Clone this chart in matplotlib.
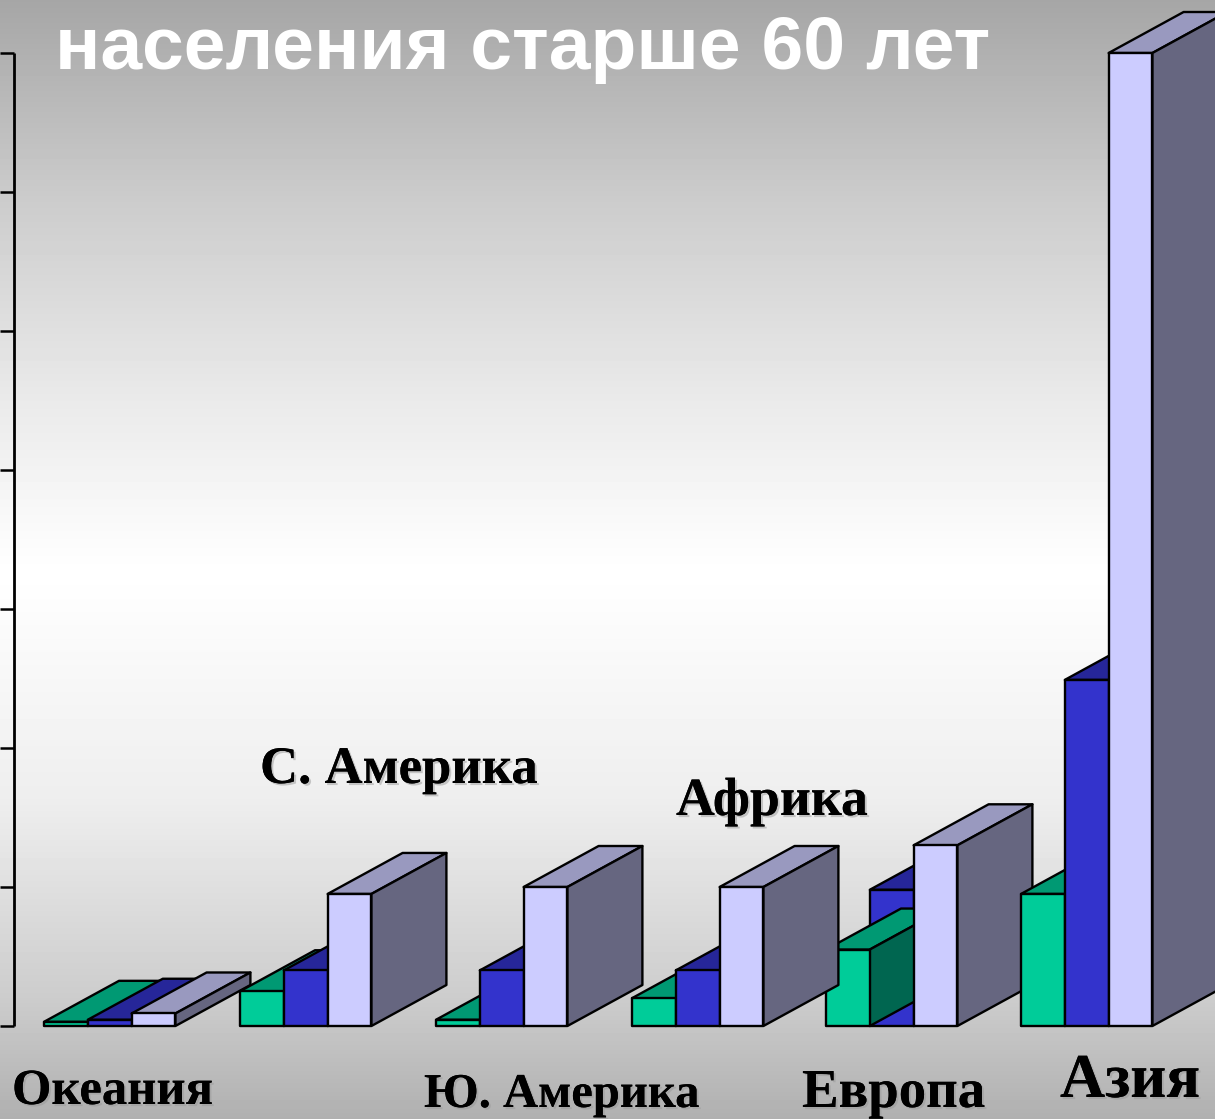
import numpy as np
import matplotlib
matplotlib.use('Agg')
import matplotlib.pyplot as plt
from matplotlib.patches import Polygon
import matplotlib.patheffects as pe

# heights of the bars (one axis step = 1)
categories = ['Океания', 'С. Америка', 'Ю. Америка', 'Африка', 'Европа', 'Азия']
series_green = [0.03, 0.25, 0.045, 0.20, 0.55, 0.95]
series_blue = [0.045, 0.40, 0.40, 0.40, 0.98, 2.49]
series_light = [0.09, 0.95, 1.0, 1.0, 1.3, 7.0]
y_ticks = [0, 1, 2, 3, 4, 5, 6, 7]
title = 'населения старше 60 лет'

W, H = 1215, 1119
STEP = 195.4
UNIT = 139.0
X0, Y0 = 44, 1026
BAR = 43.8 / STEP
DX = 75 / STEP
DY = 41 / UNIT
GROUP_PX = [44, 240, 436, 632, 826, 1021]

colors_green = ('#00CC99', '#009973', '#006650')
colors_blue = ('#3333CC', '#262699', '#1A1A66')
colors_light = ('#CCCCFF', '#9999BF', '#666680')


def draw_bar(ax, x, h, colors, z):
    # front, top and side faces of one pseudo 3d bar
    front = [(x, 0), (x + BAR, 0), (x + BAR, h), (x, h)]
    top = [(x, h), (x + BAR, h), (x + BAR + DX, h + DY), (x + DX, h + DY)]
    side = [(x + BAR, 0), (x + BAR + DX, DY), (x + BAR + DX, h + DY), (x + BAR, h)]
    for pts, col in zip([top, side, front], [colors[1], colors[2], colors[0]]):
        ax.add_patch(Polygon(pts, closed=True, facecolor=col, edgecolor='black',
                             linewidth=1.7, zorder=z, joinstyle='round'))


fig = plt.figure(figsize=(W / 100, H / 100), dpi=100)
ax = fig.add_axes([0, 0, 1, 1])
ax.set_xlim(-X0 / STEP, (W - X0) / STEP)
ax.set_ylim(-(H - Y0) / UNIT, Y0 / UNIT)
ax.axis('off')

# background gradient, grey - white - grey
stops = np.array([0, 200, 400, 572, 800, 1000, 1119]) / H
greys = np.array([166, 204, 234, 255, 238, 204, 176]) / 255
grad = np.interp(np.linspace(0, 1, H), stops, greys).reshape(-1, 1)
ax.imshow(grad, cmap='gray', vmin=0, vmax=1, aspect='auto', zorder=0,
          extent=[*ax.get_xlim(), *ax.get_ylim()], origin='upper')
ax.set_xlim(-X0 / STEP, (W - X0) / STEP)
ax.set_ylim(-(H - Y0) / UNIT, Y0 / UNIT)

# axis line at the left edge, the rest of the wall is cut off
wall_x = (14 - X0) / STEP
ax.vlines(wall_x, y_ticks[0], y_ticks[-1], color='black', lw=2.0, zorder=2)
ax.hlines(y_ticks, -X0 / STEP, wall_x, color='black', lw=1.8, zorder=2)

# Европа goes first and has the green bar in front of the blue one
order = [4, 0, 1, 2, 3, 5]
for n, i in enumerate(order):
    z = 3 + n
    start = (GROUP_PX[i] - X0) / STEP
    if categories[i] == 'Европа':
        bars = [(series_blue, colors_blue), (series_green, colors_green), (series_light, colors_light)]
        offs = [1, 0, 2]
    else:
        bars = [(series_green, colors_green), (series_blue, colors_blue), (series_light, colors_light)]
        offs = [0, 1, 2]
    for (vals, cols), k in zip(bars, offs):
        draw_bar(ax, start + k * BAR, vals[i], cols, z)
        z += 0.1

# labels: left px, baseline px, font size
label_pos = [(12, 1104, 36.5), (260, 783, 38), (424, 1107, 35),
             (676, 815, 38.7), (802, 1107, 39.5), (1060, 1097, 45)]
shadow = [pe.withSimplePatchShadow(offset=(1.5, -1.5), shadow_rgbFace='#999999', alpha=0.5), pe.Normal()]
for name, (px, py, size) in zip(categories, label_pos):
    fig.text(px / W, 1 - py / H, name, fontfamily='Liberation Serif', fontweight='bold',
             fontsize=size, color='black', ha='left', va='baseline', zorder=20, path_effects=shadow)

fig.text(55 / W, 1 - 69 / H, title, fontfamily='Liberation Sans', fontweight='bold',
         fontsize=54, color='white', ha='left', va='baseline', zorder=20)

fig.savefig('out.png', dpi=100)
